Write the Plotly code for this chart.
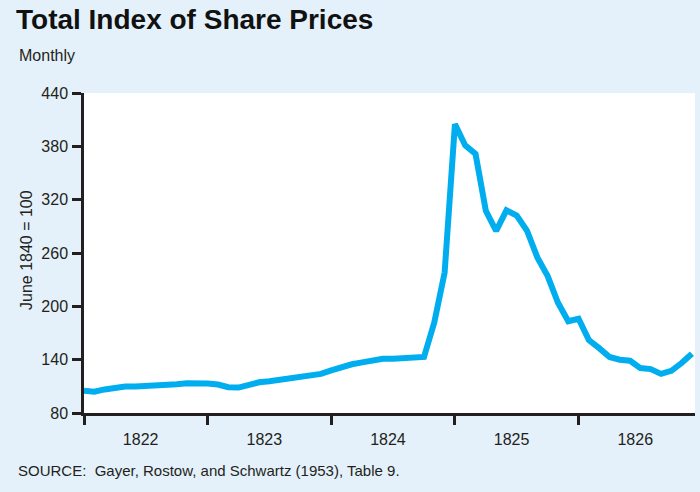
import plotly.graph_objects as go

# Monthly index, Jan 1822 .. Dec 1826 (month number from Jan 1822)
months = list(range(60))
years = ["1822", "1823", "1824", "1825", "1826"]
index_values = [
    105, 104, 106.5, 108.5, 109.7, 109.7, 110, 110.7, 111.6, 112.4, 113.5, 114.2,
    113.3, 112, 109, 108.6, 112.4, 114.5, 115.8, 117.5, 118.4, 119.5, 121.8, 124,
    128, 132.2, 134.8, 137, 138.8, 141, 141, 142.1, 143, 143, 182, 238,
    405, 381, 371.5, 307.5, 285, 308, 302, 285, 255, 234, 204, 183.2,
    186, 162, 153, 143, 140, 138.8, 130.5, 129.4, 124, 127.5, 136.2, 146.7,
]
y_ticks = [80, 140, 200, 260, 320, 380, 440]

BG = "#E4F1FA"
LINE = "#00AEEF"
INK = "#231F20"
FONT = "Liberation Sans, Arial, sans-serif"

fig = go.Figure()
fig.add_trace(go.Scatter(
    x=months, y=index_values, mode="lines",
    line=dict(color=LINE, width=6, shape="linear"),
    hoverinfo="skip", showlegend=False,
))

L, R, T, B = 84, 5, 93, 79
W, H = 700, 492
pw, ph = W - L - R, H - T - B

def px(x):
    return (x - L) / pw

def py(y):
    return (H - B - y) / ph

fig.update_layout(
    width=W, height=H,
    margin=dict(l=L, r=R, t=T, b=B, pad=0, autoexpand=False),
    paper_bgcolor=BG, plot_bgcolor="white",
    font=dict(family=FONT, size=16, color=INK),
    title=dict(
        text="<b>Total Index of Share Prices</b>",
        x=16 / W, xanchor="left", xref="container",
        y=1 - 19 / H, yanchor="middle", yref="container",
        font=dict(family=FONT, size=28, color="#111111"),
    ),
    xaxis=dict(
        range=[0, 59.3], showgrid=False, zeroline=False, automargin=False,
        showline=True, linecolor=INK, linewidth=2.5,
        tickmode="array", tickvals=[5.5, 17.5, 29.5, 41.5, 53.5], ticktext=years,
        ticks="", ticklabelstandoff=10,
        tickfont=dict(family=FONT, size=16, color=INK),
        minor=dict(tickmode="array", tickvals=[0, 12, 24, 36, 48],
                   ticks="outside", ticklen=9, tickwidth=2.5, tickcolor=INK,
                   showgrid=False),
    ),
    yaxis=dict(
        range=[80, 440], showgrid=False, zeroline=False, automargin=False,
        showline=True, linecolor=INK, linewidth=2.5,
        tickmode="array", tickvals=y_ticks,
        ticks="outside", ticklen=9, tickwidth=2.5, tickcolor=INK,
        ticklabelstandoff=1,
        tickfont=dict(family=FONT, size=16, color=INK),
    ),
)

fig.add_annotation(
    text="June 1840 = 100", xref="paper", yref="paper", textangle=-90,
    x=px(26), y=py(250), xanchor="center", yanchor="middle", showarrow=False,
    font=dict(family=FONT, size=16, color=INK),
)
fig.add_annotation(
    text="Monthly", xref="paper", yref="paper",
    x=px(17), y=py(55), xanchor="left", yanchor="middle", showarrow=False,
    font=dict(family=FONT, size=16, color=INK),
)
fig.add_annotation(
    text="SOURCE:  Gayer, Rostow, and Schwartz (1953), Table 9.", xref="paper", yref="paper",
    x=px(16), y=py(470), xanchor="left", yanchor="middle", showarrow=False,
    font=dict(family=FONT, size=15, color=INK),
)

fig.write_html(
    "out.html",
    config={"displayModeBar": False},
    post_script="document.body.style.margin='0';document.body.style.background='" + BG + "';",
)
